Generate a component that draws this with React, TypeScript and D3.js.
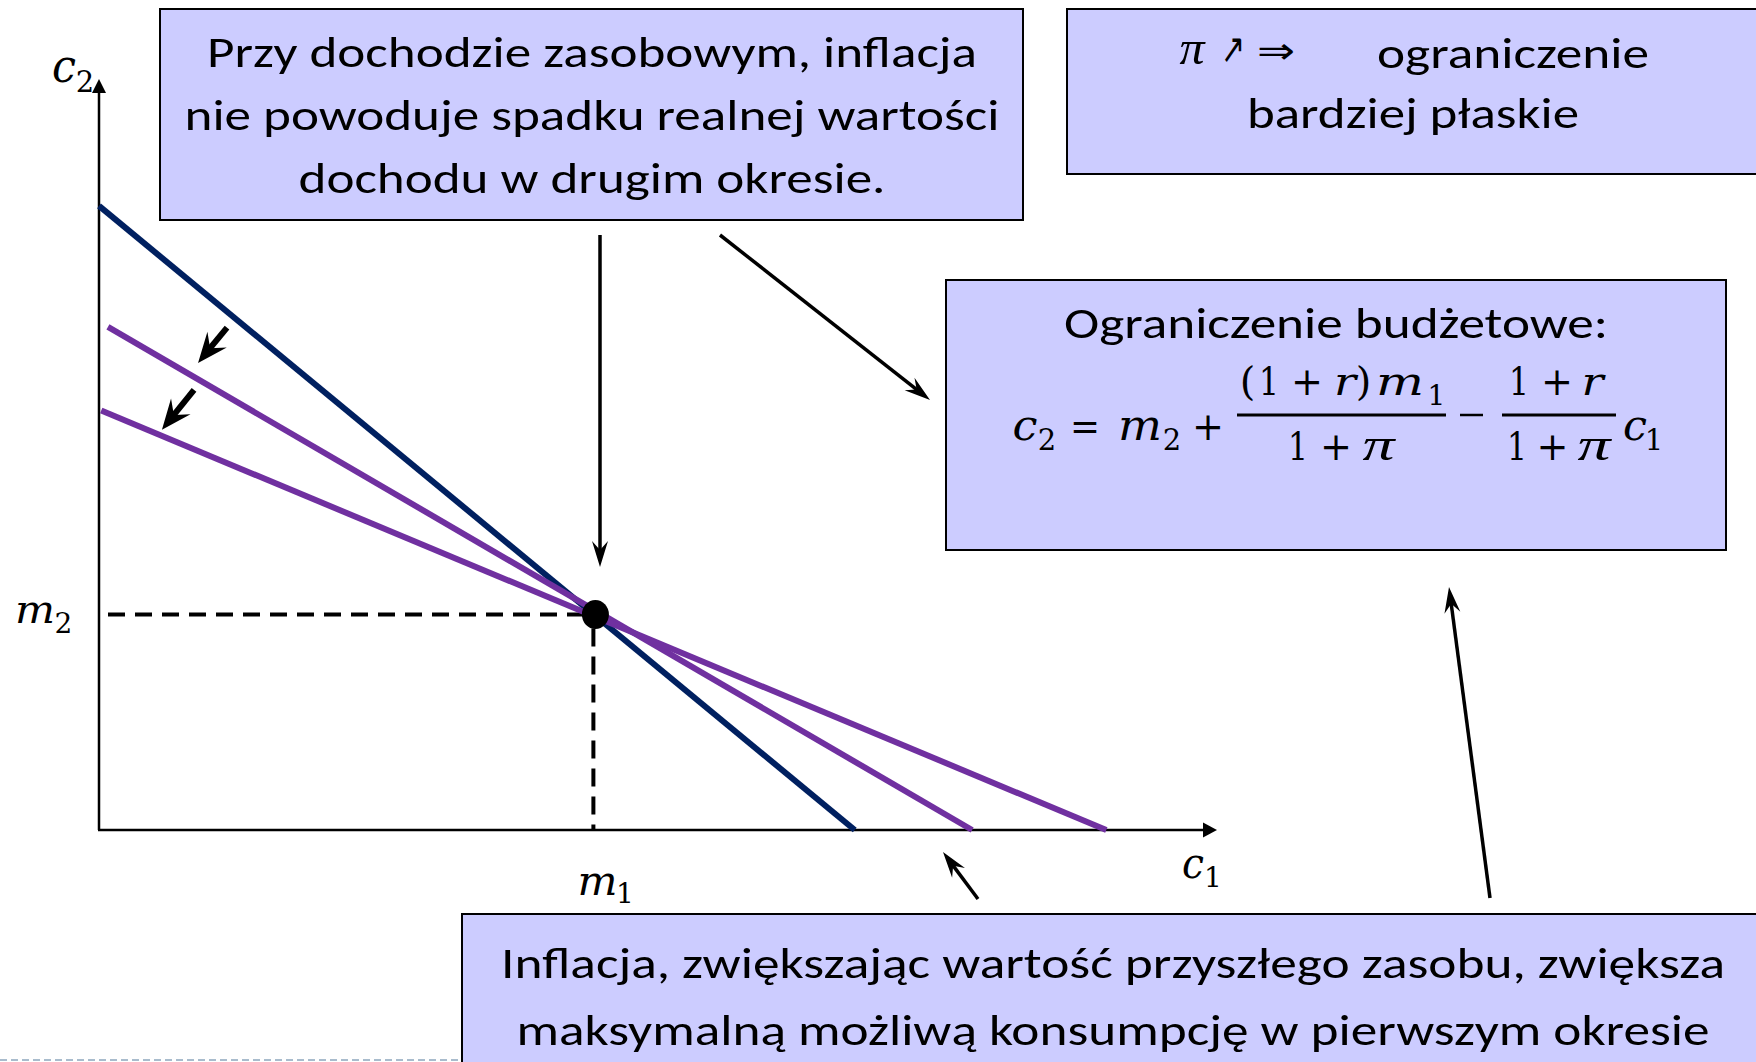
import React from "react";
import * as d3 from "d3";

const W = 1756;
const H = 1062;

// ---- data (in abstract c1 / c2 units) ----
const c1Domain = [0, 10];
const c2Domain = [0, 10];
const endowmentC1 = [4.44];
const endowmentC2 = [2.87];
const constraintNames = ["bez inflacji", "inflacja 1", "inflacja 2"];
const constraintStartC1 = [0, 0.08, 0.02];
const constraintStartC2 = [8.31, 6.7, 5.585];
const constraintEndC1 = [6.76, 7.81, 9.01];
const constraintEndC2 = [0, 0, 0];
const shiftFromC1 = [1.145, 0.85];
const shiftFromC2 = [6.69, 5.86];
const shiftToC1 = [0.886, 0.563];
const shiftToC2 = [6.22, 5.33];

// ---- texts ----
const box1Lines = [
  "Przy dochodzie zasobowym, inflacja",
  "nie powoduje spadku realnej wartości",
  "dochodu w drugim okresie.",
];
const box2Word = "ograniczenie";
const box2Line2 = "bardziej płaskie";
const box3Title = "Ograniczenie budżetowe:";
const box4Lines = [
  "Inflacja, zwiększając wartość przyszłego zasobu, zwiększa",
  "maksymalną możliwą konsumpcję w pierwszym okresie",
];

const NAVY = "#002060";
const PURPLE = "#7030A0";
const BOXFILL = "#CCCCFF";
const SANS = "Carlito, 'Liberation Sans Narrow', 'Noto Sans', sans-serif";
const SERIF = "'DejaVu Serif', 'Liberation Serif', serif";
const PI_FONT = "'Liberation Serif', serif";

function arrow(x1: number, y1: number, x2: number, y2: number, L: number, Wd: number, notch: number) {
  const dx = x2 - x1, dy = y2 - y1;
  const len = Math.hypot(dx, dy);
  const ux = dx / len, uy = dy / len;
  const nx = -uy, ny = ux;
  const bx = x2 - L * ux, by = y2 - L * uy;
  const mx = x2 - (L - notch) * ux, my = y2 - (L - notch) * uy;
  const head = `M${x2},${y2}L${bx + (nx * Wd) / 2},${by + (ny * Wd) / 2}L${mx},${my}L${bx - (nx * Wd) / 2},${by - (ny * Wd) / 2}Z`;
  return { lx2: mx + ux * 1, ly2: my + uy * 1, head };
}

function Arrow({ x1, y1, x2, y2, sw, L, Wd, notch }: any) {
  const a = arrow(x1, y1, x2, y2, L, Wd, notch);
  return (
    <g>
      <line x1={x1} y1={y1} x2={a.lx2} y2={a.ly2} stroke="#000" strokeWidth={sw} />
      <path d={a.head} fill="#000" />
    </g>
  );
}

function G({ t, cx, y, size, it, w, font }: any) {
  const extra: any = w ? { textLength: w, lengthAdjust: "spacingAndGlyphs" } : {};
  return (
    <text
      x={cx}
      y={y}
      textAnchor="middle"
      fontFamily={font || SERIF}
      fontSize={size}
      fontStyle={it ? "italic" : "normal"}
      fill="#000"
      {...extra}
    >
      {t}
    </text>
  );
}

export default function App() {
  const x = d3.scaleLinear().domain(c1Domain).range([99, 1217]);
  const y = d3.scaleLinear().domain(c2Domain).range([830, 79]);
  const line = d3.line<[number, number]>().x((d) => x(d[0])).y((d) => y(d[1]));

  const x0 = x(0), y0 = y(0);
  const xTip = x(c1Domain[1]);
  const yTip = y(c2Domain[1]);

  const ex = x(endowmentC1[0]);
  const ey = y(endowmentC2[0]);

  const colors = [NAVY, PURPLE, PURPLE];

  // long annotation arrows (layout, pixel positions between boxes)
  const longArrows = [
    [600, 235, 600, 567],
    [720, 235, 930, 400],
    [978, 899, 943, 852],
    [1490, 898, 1449, 587],
  ];

  return (
    <div style={{ position: "absolute", left: 0, top: 0, width: W, height: H, background: "#fff" }}>
      <svg width={W} height={H} viewBox={`0 0 ${W} ${H}`} style={{ display: "block" }}>
        <rect width={W} height={H} fill="#fff" />

        {/* slide decoration */}
        <line x1={0} y1={1060} x2={462} y2={1060} stroke="#A9BCCD" strokeWidth={2} strokeDasharray="7 4" />

        {/* dashed guides */}
        <line x1={108} y1={ey} x2={ex} y2={ey} stroke="#000" strokeWidth={4} strokeDasharray="17 10" />
        <line x1={ex - 2} y1={ey + 14} x2={ex - 2} y2={y0} stroke="#000" strokeWidth={4} strokeDasharray="18 10" />

        {/* axes */}
        <line x1={x0} y1={y0} x2={x0} y2={yTip + 12} stroke="#000" strokeWidth={2.5} />
        <path d={`M${x0},${yTip}L${x0 - 7},${yTip + 14}L${x0 + 7},${yTip + 14}Z`} fill="#000" />
        <line x1={x0 - 1} y1={y0} x2={xTip - 12} y2={y0} stroke="#000" strokeWidth={2.5} />
        <path d={`M${xTip},${y0}L${xTip - 14},${y0 - 7.5}L${xTip - 14},${y0 + 7.5}Z`} fill="#000" />

        {/* budget constraints */}
        {constraintNames.map((n, i) => (
          <path
            key={n}
            d={line([
              [constraintStartC1[i], constraintStartC2[i]],
              [constraintEndC1[i], constraintEndC2[i]],
            ]) as string}
            stroke={colors[i]}
            strokeWidth={6}
            fill="none"
          />
        ))}

        {/* endowment point */}
        <ellipse cx={ex} cy={ey} rx={13.5} ry={14.5} fill="#000" />

        {/* rotation arrows */}
        {shiftFromC1.map((v, i) => (
          <Arrow
            key={i}
            x1={x(v)}
            y1={y(shiftFromC2[i])}
            x2={x(shiftToC1[i])}
            y2={y(shiftToC2[i])}
            sw={6}
            L={30}
            Wd={25}
            notch={11}
          />
        ))}

        {/* axis labels */}
        <G t="c" cx={64} y={82} size={46} it w={24} />
        <G t="2" cx={85} y={92} size={29} />
        <G t="m" cx={35} y={623} size={40} it w={40} />
        <G t="2" cx={63.5} y={633} size={28} />
        <G t="m" cx={597.5} y={895} size={41} it w={40} />
        <G t="1" cx={625} y={903} size={28} />
        <G t="c" cx={1193} y={878} size={42} it w={22} />
        <G t="1" cx={1213} y={887} size={28} />

        {/* long arrows */}
        {longArrows.map((a, i) => (
          <Arrow key={i} x1={a[0]} y1={a[1]} x2={a[2]} y2={a[3]} sw={3.5} L={26} Wd={16} notch={9} />
        ))}

        {/* box 1 */}
        <rect x={160} y={9} width={863} height={211} fill={BOXFILL} stroke="#000" strokeWidth={2} />
        {box1Lines.map((t, i) => (
          <text
            key={i}
            x={592}
            y={67 + i * 63}
            textAnchor="middle"
            fontFamily={SANS}
            fontSize={44}
            textLength={[770, 815, 587][i]}
            lengthAdjust="spacingAndGlyphs"
            fill="#000"
          >
            {t}
          </text>
        ))}

        {/* box 2 */}
        <rect x={1067} y={9} width={720} height={165} fill={BOXFILL} stroke="#000" strokeWidth={2} />
        <G t="π" cx={1192} y={64} size={48} it w={25} font={PI_FONT} />
        <G t="↗" cx={1233} y={63} size={42} w={24} font="'DejaVu Sans', sans-serif" />
        <G t="⇒" cx={1276} y={63} size={36} w={38} font="'DejaVu Sans', sans-serif" />
        <text x={1513} y={68} textAnchor="middle" fontFamily={SANS} fontSize={44} textLength={272} lengthAdjust="spacingAndGlyphs" fill="#000">{box2Word}</text>
        <text x={1413} y={128} textAnchor="middle" fontFamily={SANS} fontSize={44} textLength={332} lengthAdjust="spacingAndGlyphs" fill="#000">{box2Line2}</text>

        {/* box 3 */}
        <rect x={946} y={280} width={780} height={270} fill={BOXFILL} stroke="#000" strokeWidth={2} />
        <text x={1336} y={338} textAnchor="middle" fontFamily={SANS} fontSize={44} textLength={544} lengthAdjust="spacingAndGlyphs" fill="#000">{box3Title}</text>
        <g>
          <G t="c" cx={1025} y={440} size={42} it w={25} />
          <G t="2" cx={1047} y={450} size={29} />
          <G t="=" cx={1085} y={440} size={40} w={30} />
          <G t="m" cx={1140} y={440} size={42} it w={44} />
          <G t="2" cx={1172} y={450} size={29} />
          <G t="+" cx={1208} y={440} size={40} w={32} />

          <G t="(" cx={1247.5} y={395} size={40} />
          <G t="1" cx={1269} y={395} size={40} w={20} />
          <G t="+" cx={1307} y={395} size={40} w={32} />
          <G t="r" cx={1345} y={395} size={40} it w={22} />
          <G t=")" cx={1363.5} y={395} size={40} />
          <G t="m" cx={1400} y={395} size={40} it w={48} />
          <G t="1" cx={1436.5} y={405} size={28} />
          <line x1={1237} y1={415} x2={1446} y2={415} stroke="#000" strokeWidth={3} />
          <G t="1" cx={1298} y={460} size={40} w={20} />
          <G t="+" cx={1336} y={460} size={40} w={32} />
          <G t="π" cx={1378.5} y={460} size={46} it w={32} font={PI_FONT} />

          <line x1={1460} y1={415} x2={1483} y2={415} stroke="#000" strokeWidth={2.5} />

          <G t="1" cx={1519} y={395} size={40} w={20} />
          <G t="+" cx={1557} y={395} size={40} w={32} />
          <G t="r" cx={1592.5} y={395} size={40} it w={22} />
          <line x1={1502} y1={415} x2={1616} y2={415} stroke="#000" strokeWidth={3} />
          <G t="1" cx={1517} y={460} size={40} w={20} />
          <G t="+" cx={1552.5} y={460} size={40} w={32} />
          <G t="π" cx={1594} y={460} size={46} it w={33} font={PI_FONT} />

          <G t="c" cx={1635} y={440} size={42} it w={24} />
          <G t="1" cx={1654} y={450} size={29} />
        </g>

        {/* box 4 */}
        <rect x={462} y={914} width={1320} height={200} fill={BOXFILL} stroke="#000" strokeWidth={2} />
        {box4Lines.map((t, i) => (
          <text
            key={i}
            x={1113}
            y={978 + i * 67}
            textAnchor="middle"
            fontFamily={SANS}
            fontSize={44}
            textLength={[1224, 1193][i]}
            lengthAdjust="spacingAndGlyphs"
            fill="#000"
          >
            {t}
          </text>
        ))}
      </svg>
    </div>
  );
}
